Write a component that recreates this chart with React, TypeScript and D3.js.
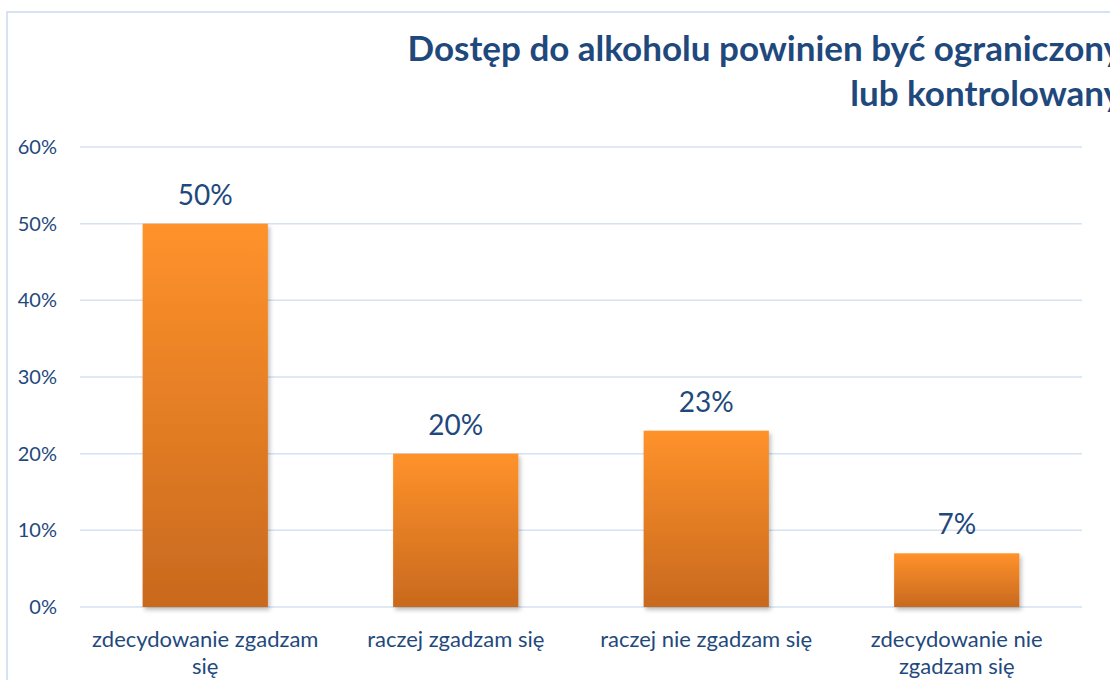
import React from "react";
import * as d3 from "d3";

const categories: string[][] = [
  ["zdecydowanie zgadzam", "się"],
  ["raczej zgadzam się"],
  ["raczej nie zgadzam się"],
  ["zdecydowanie nie", "zgadzam się"],
];
const values: number[] = [0.5, 0.2, 0.23, 0.07];
const valueLabels: string[] = ["50%", "20%", "23%", "7%"];
const yTicks: number[] = [0, 0.1, 0.2, 0.3, 0.4, 0.5, 0.6];
const titleLines: string[] = ["Dostęp do alkoholu powinien być ograniczony", "lub kontrolowany"];

const W = 1110;
const H = 680;
const FONT = "Lato, 'Open Sans', sans-serif";
const TEXT = "#1F497D";

export default function App() {
  const x = d3
    .scaleBand<number>()
    .domain(d3.range(categories.length))
    .range([80, 1082])
    .paddingInner(0.5)
    .paddingOuter(0.25);
  const y = d3.scaleLinear().domain([0, 0.6]).range([607, 147]);
  const fmt = d3.format(".0%");

  return (
    <svg
      width={W}
      height={H}
      style={{ position: "absolute", left: 0, top: 0, background: "#fff" }}
      fontFamily={FONT}
    >
      <defs>
        <linearGradient id="barGrad" x1="0" y1="0" x2="0" y2="1">
          <stop offset="0%" stopColor="#FF922B" />
          <stop offset="100%" stopColor="#C8691E" />
        </linearGradient>
        <filter id="shadow" x="-10%" y="-10%" width="130%" height="130%">
          <feDropShadow dx="2" dy="3" stdDeviation="2" floodColor="#000" floodOpacity="0.25" />
        </filter>
      </defs>
      <rect x={7} y={12} width={W + 20} height={H + 20} fill="#fff" stroke="#C9DAEE" strokeWidth={1.5} />

      {titleLines.map((t, i) => (
        <text
          key={i}
          x={1122}
          y={61 + i * 45}
          textAnchor="end"
          fontSize={35}
          fontWeight="bold"
          fill="#1F497D"
        >
          {t}
        </text>
      ))}

      {yTicks.map((t) => (
        <g key={t}>
          <line x1={80} x2={1082} y1={y(t)} y2={y(t)} stroke="#D5E2F2" strokeWidth={1.5} />
          <text x={57} y={y(t) + 7} textAnchor="end" fontSize={20} fill={TEXT}>
            {fmt(t)}
          </text>
        </g>
      ))}

      {values.map((v, i) => (
        <g key={i}>
          <rect
            x={x(i)!}
            y={y(v)}
            width={x.bandwidth()}
            height={y(0) - y(v)}
            fill="url(#barGrad)"
            filter="url(#shadow)"
          />
          <text
            x={x(i)! + x.bandwidth() / 2}
            y={y(v) - 19}
            textAnchor="middle"
            fontSize={28}
            fill={TEXT}
          >
            {valueLabels[i]}
          </text>
          {categories[i].map((line, j) => (
            <text
              key={j}
              x={x(i)! + x.bandwidth() / 2}
              y={647 + j * 27}
              textAnchor="middle"
              fontSize={22}
              fill={TEXT}
            >
              {line}
            </text>
          ))}
        </g>
      ))}
    </svg>
  );
}
